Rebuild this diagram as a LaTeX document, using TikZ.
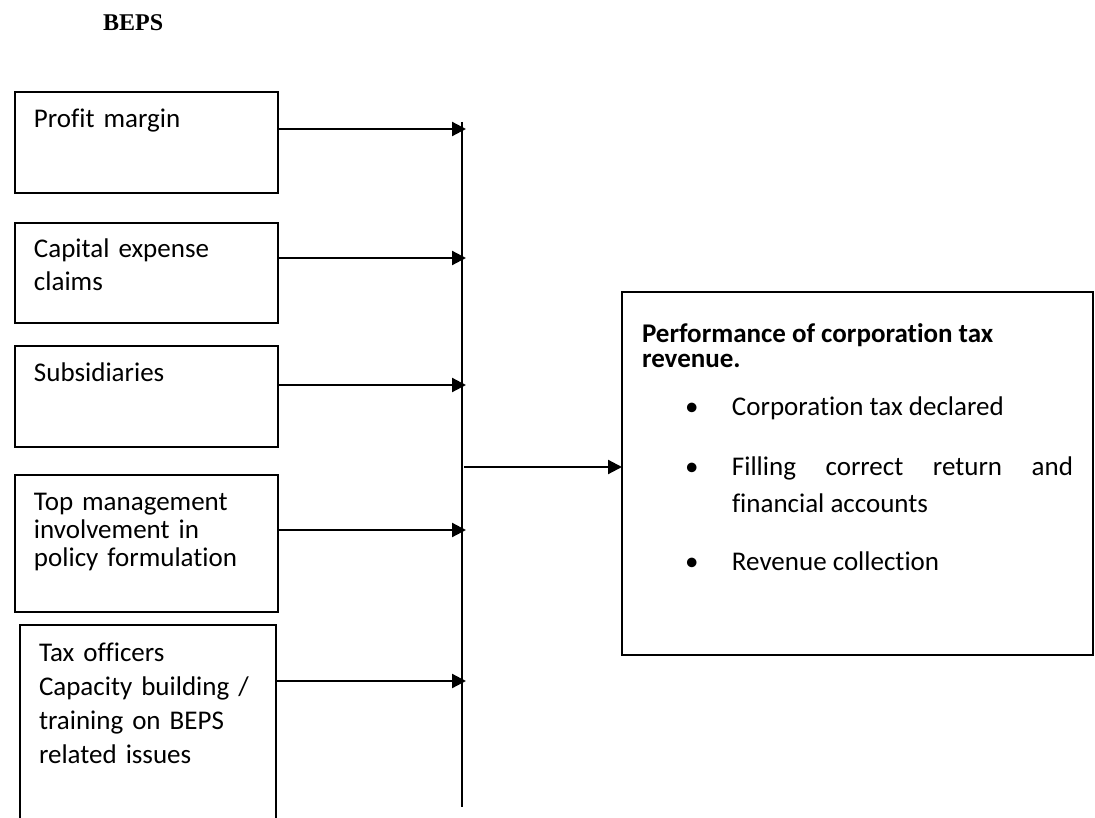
\documentclass[tikz,border=0pt]{standalone}
\usepackage{fontspec}
\setmainfont{Carlito}[Ligatures=NoCommon]
\newfontfamily\headserif{Liberation Serif}
\usetikzlibrary{arrows.meta}
\newcommand\perfitem{\noindent\hspace*{-47pt}\makebox[47pt][l]{\textbullet}}
\tikzset{
  factor/.style={draw,line width=1.8pt,anchor=north west,inner xsep=19pt,inner ysep=0pt,
    outer sep=0pt,align=left,text width=225pt,font=\fontsize{27}{33}\selectfont},
  feed/.style={line width=2.2pt,-{Triangle[length=14pt,width=14pt]}},
}
\begin{document}
\begin{tikzpicture}[x=1pt,y=-1pt]
\useasboundingbox (0,0) rectangle (1095,818);
\node[anchor=base west,inner sep=0pt,font=\headserif\bfseries\fontsize{24}{24}\selectfont] (beps) at (103,31) {BEPS};
% the five factors
\node[factor,text height=36pt,text depth=65pt] (pm) at (15,92) {Profit margin};
\node[factor,text height=35pt,text depth=65pt] (cec) at (15,223) {Capital expense\\claims};
\node[factor,text height=35pt,text depth=66pt] (sub) at (15,346) {Subsidiaries};
\node[factor,text height=35pt,text depth=102pt,font=\fontsize{27}{28}\selectfont] (tmi) at (15,475)
  {Top management\\involvement in\\policy formulation};
\node[factor,text width=218pt,text height=36pt,text depth=169pt,font=\fontsize{27}{34}\selectfont] (tob) at (20,625)
  {Tax officers\\Capacity building /\\training on BEPS\\related issues};
% outcome
\node[factor,align=justify,inner xsep=20pt,text width=431pt,text height=50pt,text depth=313pt] (perf) at (622,292) {%
  {\bfseries\raggedright\baselineskip=25pt Performance of corporation tax revenue.\par}
  \baselineskip=36pt \leftskip=90pt \hyphenpenalty=10000 \tolerance=9999
  \vspace{12pt}
  \perfitem Corporation tax declared\par
  \vspace{25pt}
  \perfitem Filling correct return and financial accounts\par
  \vspace{22pt}
  \perfitem Revenue collection\par};
% spine and arrows
\coordinate (spt) at (462,122);
\coordinate (spb) at (462,807);
\coordinate (tip) at (466,0);
\coordinate (hub) at (464,467);
\draw[line width=2pt] (spt) -- (spb);
\foreach \n/\d in {pm/37,cec/35,sub/39,tmi/55,tob/56}
  \draw[feed] ([yshift=-\d pt]\n.north east) coordinate (a) -- (a -| tip);
\draw[feed] (hub) -- (hub -| perf.west);
\end{tikzpicture}
\end{document}
